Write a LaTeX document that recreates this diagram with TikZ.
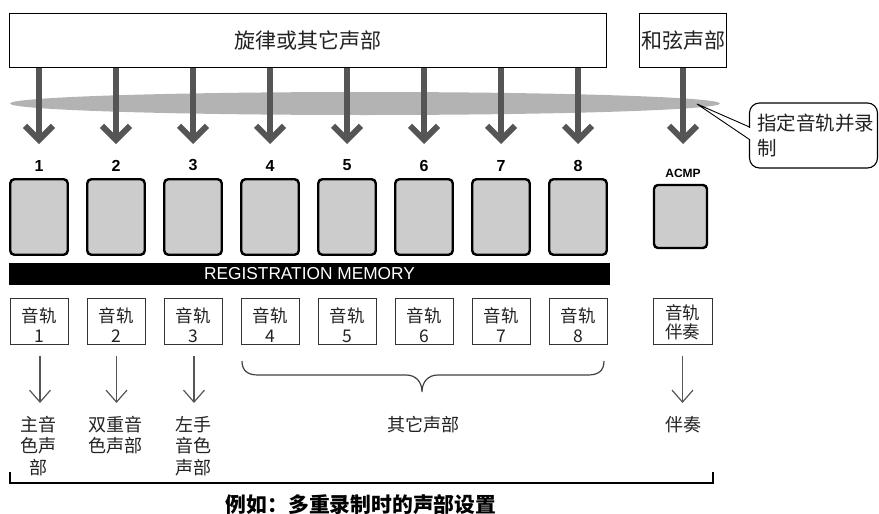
\documentclass[tikz,border=0pt]{standalone}
\usepackage{fontspec}
\setmainfont{Noto Sans CJK SC}
\newfontfamily\lat{Liberation Sans}
\usetikzlibrary{arrows.meta,shapes.geometric}
\definecolor{arrowgray}{HTML}{555555}
\definecolor{ellgray}{HTML}{B3B3B3}
\definecolor{boxgray}{HTML}{CCCCCC}
\definecolor{inkgray}{HTML}{222222}
\begin{document}
\begin{tikzpicture}[x=1pt,y=-1pt,
  every node/.style={inner sep=0pt, outer sep=0pt, text=inkgray},
  srcbox/.style={draw=black, line width=1.2pt, fill=white, minimum height=54pt, font=\fontsize{21}{24}\selectfont},
  numlab/.style={font=\lat\bfseries\fontsize{16}{18}\selectfont, text=black},
  padbox/.style={draw=black, line width=2.4pt, fill=boxgray, rounded corners=4pt, minimum width=57.5pt, minimum height=75.5pt},
  trackbox/.style={draw=black!80, line width=0.9pt, minimum width=58pt, minimum height=46pt},
  tracktext/.style={align=center, font=\fontsize{17.5}{19.5}\selectfont, yshift=-3.5pt},
  bigarrow/.style={draw=arrowgray, line width=6pt, -{Straight Barb[length=14pt,width=28pt]}},
  thinarrow/.style={draw=arrowgray, line width=1.2pt, -{Straight Barb[length=12pt,width=21pt]}},
  desc/.style={align=center, font=\fontsize{18}{21.5}\selectfont, anchor=north},
]
\useasboundingbox (0,0) rectangle (879,514);
% selection band
\node[ellipse, fill=ellgray, minimum width=710pt, minimum height=23pt] (ell) at (365,103.5) {};
\coordinate (tip) at (697,104);
% sources
\node[srcbox, minimum width=597pt] (top) at (308,40.5) {旋律或其它声部};
\node[srcbox, minimum width=87pt] (chord) at (683,40.5) {和弦声部};
% eight tracks
\foreach \i in {1,...,8} {
  \pgfmathsetmacro\xx{39+77*(\i-1)}
  \node[numlab] (n\i) at (\xx,165.5) {\i};
  \coordinate (e\i) at (\xx,144);
  \draw[bigarrow] (top.south -| e\i) -- (e\i);
  \node[padbox] (p\i) at (\xx,217) {};
  \node[trackbox, label={[tracktext]center:音轨\\\i}] (t\i) at (\xx,321.5) {};
}
% ACMP
\coordinate (ea) at (683,144);
\draw[bigarrow] (chord.south -| ea) -- (ea);
\node[font=\lat\bfseries\fontsize{12}{14}\selectfont, text=black] (na) at (683,173) {ACMP};
\node[padbox, minimum width=53pt, minimum height=63pt] (pa) at (680.5,216.5) {};
\node[trackbox, minimum width=59pt, label={[tracktext, yshift=2.5pt]center:音轨\\伴奏}] (ta) at (682.5,321.5) {};
% registration memory bar
\node[fill=black, minimum width=601pt, minimum height=22pt, text=white, font=\lat\fontsize{17.3}{17}\selectfont] (reg) at (309.5,273.5) {REGISTRATION MEMORY};
% callout
\node[draw=black, fill=white, line width=1.1pt, rounded corners=10pt, anchor=north west,
      minimum width=128pt, minimum height=65pt, text width=117pt, inner xsep=5.5pt,
      align=left, font=\fontsize{19.5}{25}\selectfont] (call) at (749.5,103) {\hspace*{2pt}指定音轨并录\\\hspace*{2pt}制};
\draw[white, line width=2.5pt] (call.west |- 0,128) -- (call.west |- 0,139);
\draw[line width=0.9pt, line join=miter] (call.west |- 0,127) -- (tip) -- (call.west |- 0,139.5);
% lower arrows and descriptions
\foreach \i/\xx in {1/40,2/116.5,3/194} {
  \coordinate (d\i) at (\xx,403);
  \draw[thinarrow] ([yshift=-11pt]t\i.south -| d\i) -- (d\i);
}
\coordinate (da) at (682.5,403);
\draw[thinarrow] ([yshift=-11pt]ta.south) -- (da);
\node[desc] (l1) at (38,416) {主音\\色声\\部};
\node[desc] (l2) at (115,416) {双重音\\色声部};
\node[desc] (l3) at (193,416) {左手\\音色\\声部};
\node[desc] (l4) at (423,416) {其它声部};
\node[desc] (la) at (683,416) {伴奏};
% brace over tracks 4-8
\draw[draw=black!75, line width=1.2pt] (242,361) .. controls (242,371) and (248,375) .. (258,375) -- (406,375) .. controls (416,375) and (422,382) .. (422,392) .. controls (422,382) and (428,375) .. (438,375) -- (588,375) .. controls (598,375) and (604,371) .. (604,361);
% bottom bracket and caption
\draw[line width=2.6pt] (10,472) -- (10,483) -- (713,483) -- (713,472);
\node[font=\bfseries\fontsize{20.8}{24}\selectfont, text=black] (cap) at (361,505) {例如：多重录制时的声部设置};
\end{tikzpicture}
\end{document}
